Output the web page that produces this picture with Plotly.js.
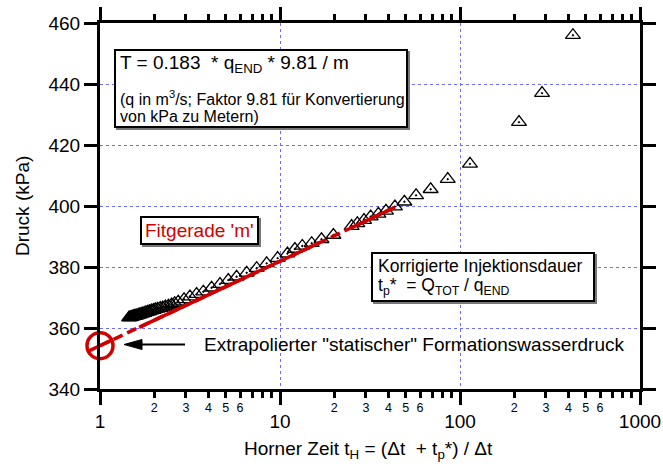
<!DOCTYPE html>
<html>
<head>
<meta charset="utf-8">
<script src="https://cdn.plot.ly/plotly-3.0.1.min.js"></script>
<style>html,body{margin:0;padding:0;background:#fff;}#chart{width:663px;height:468px;}</style>
</head>
<body>
<div id="chart"></div>
<script>
// ---- data ----
const hornerTime = [1.45,1.47,1.49,1.51,1.53,1.55,1.57,1.60,1.63,1.66,1.69,1.72,1.76,1.80,1.84,1.88,1.93,1.98,2.03,2.09,2.16,2.23,2.31,2.40,2.50,2.60,
  2.72,2.93,3.16,3.44,3.75,4.17,4.64,5.16,5.74,6.53,7.42,8.43,9.7,11.0,12.1,13.3,15.0,17.0,19.8,25.0,26.9,29.3,31.9,35.2,38.8,43.5,49.1,57.0,68.7,85.5,113.6,212.7,285.6,424];
const pressure = [363.4,363.5,363.6,363.7,363.8,363.9,364.0,364.1,364.3,364.4,364.6,364.7,364.9,365.1,365.3,365.5,365.7,365.9,366.1,366.3,366.5,366.7,367.0,367.3,367.7,368.1,
  368.6,369.4,370.3,371.1,371.9,373.2,374.4,375.7,376.8,378.1,379.6,381.2,382.9,384.4,385.9,386.9,387.8,389.1,390.5,393.4,394.3,395.4,396.5,397.4,398.4,399.8,401.4,403.5,405.5,408.8,413.8,427.5,437.0,456.0];

// Fit line p = intercept + slope * log10(tH)
const fitIntercept = 354.2;
const fitSlope = 27.7;
const fitRange = [1, 43.5];
const fitSolidRanges = [[1.65, 16.7], [24.5, 43.5]];

const majorTicks = [1, 10, 100, 1000];
const majorLabels = ['1', '10', '100', '1000'];
const minorTicks = [2,3,4,5,6,7,8,9,20,30,40,50,60,70,80,90,200,300,400,500,600,700,800,900];
const minorLabels = ['2','3','4','5','6','','','','2','3','4','5','6','','','','2','3','4','5','6','','',''];
const yTicks = [340, 360, 380, 400, 420, 440, 460];

// ---- drawing ----
const FONT = 'Liberation Sans, Arial, sans-serif';
const RED = '#d10000';
const fitY = x => fitIntercept + fitSlope * Math.log10(x);

const traces = [];
traces.push({
  x: hornerTime, y: pressure, type: 'scatter', mode: 'markers',
  marker: {symbol: 'triangle-up-open-dot', size: 13, color: '#000', line: {width: 1.3, color: '#000'}},
  hoverinfo: 'skip'
});
traces.push({
  x: fitRange, y: fitRange.map(fitY), type: 'scatter', mode: 'lines', xaxis: 'x2',
  line: {color: RED, width: 3.5, dash: '10px,5px'}, hoverinfo: 'skip'
});
fitSolidRanges.forEach(r => traces.push({
  x: r, y: r.map(fitY), type: 'scatter', mode: 'lines', xaxis: 'x2',
  line: {color: RED, width: 3.5}, hoverinfo: 'skip'
}));
traces.push({
  x: [fitRange[0]], y: [fitY(fitRange[0])], type: 'scatter', mode: 'markers', xaxis: 'x2', cliponaxis: false,
  marker: {symbol: 'circle-open', size: 26, color: RED, line: {width: 3.5, color: RED}}, hoverinfo: 'skip'
});
traces.push({
  x: [fitRange[0]], y: [fitY(fitRange[0])], type: 'scatter', mode: 'markers', xaxis: 'x2', cliponaxis: false,
  marker: {symbol: 'line-ne-open', size: 19, angle: 20, color: RED, line: {width: 3.5, color: RED}}, hoverinfo: 'skip'
});

// paper helpers (plot area 100..640 x, 23..389 y)
const L = 100, R = 640, T = 23, B = 389;
const px = v => (v - L) / (R - L);
const py = v => (B - v) / (B - T);

const shapes = [];
function box(x0, y0, x1, y1) {
  shapes.push({type: 'rect', xref: 'paper', yref: 'paper', layer: 'above',
    x0: px(x0 + 2), x1: px(x1 + 2), y0: py(y1 + 2), y1: py(y0 + 2),
    line: {color: '#777', width: 2}, fillcolor: '#777'});
  shapes.push({type: 'rect', xref: 'paper', yref: 'paper', layer: 'above',
    x0: px(x0), x1: px(x1), y0: py(y1), y1: py(y0),
    line: {color: '#000', width: 2}, fillcolor: '#fff'});
}
box(115, 50, 407, 127);
box(141, 217, 258, 244);
box(372, 253, 594, 301);
// arrow
shapes.push({type: 'line', xref: 'paper', yref: 'paper', layer: 'above',
  x0: px(138), x1: px(185), y0: py(344.5), y1: py(344.5), line: {color: '#000', width: 2}});
shapes.push({type: 'path', xref: 'paper', yref: 'paper', layer: 'above',
  path: `M ${px(124)} ${py(344.5)} L ${px(142)} ${py(339.5)} L ${px(142)} ${py(349.5)} Z`,
  fillcolor: '#000', line: {color: '#000', width: 1}});

function txt(text, x, y, size, opts) {
  return Object.assign({text: text, xref: 'paper', yref: 'paper', x: px(x), y: py(y),
    xanchor: 'left', yanchor: 'middle', showarrow: false,
    font: {family: FONT, size: size, color: '#000'}}, opts || {});
}
const annotations = [
  txt('T = 0.183&nbsp; * q<sub>END</sub> * 9.81 / m', 118, 64, 19),
  txt('(q in m<sup>3</sup>/s; Faktor 9.81 für Konvertierung', 118, 98.5, 16),
  txt('von kPa zu Metern)', 118, 116.5, 16),
  txt('Fitgerade \'m\'', 199.5, 230.5, 19, {xanchor: 'center', font: {family: FONT, size: 19, color: RED}}),
  txt('Korrigierte Injektionsdauer', 376, 265.5, 17.5),
  txt('t<sub>p</sub>*&nbsp; = Q<sub>TOT</sub> / q<sub>END</sub>', 376, 286.5, 17.5),
  txt('Extrapolierter "statischer" Formationswasserdruck', 202, 344, 19),
  txt('Horner Zeit t<sub>H</sub> = (Δt&nbsp; + t<sub>p</sub>*) / Δt', 368, 450, 19, {xanchor: 'center'}),
  txt('Druck (kPa)', 22, 206, 19, {xanchor: 'center', textangle: -90})
];

const gridStyle = {showgrid: true, gridcolor: '#6b6bff', gridwidth: 1, griddash: 'dot'};
const layout = {
  width: 663, height: 468,
  margin: {l: L, r: 663 - R, t: T, b: 468 - B},
  paper_bgcolor: '#fff', plot_bgcolor: '#fff',
  showlegend: false,
  font: {family: FONT, color: '#000'},
  xaxis: Object.assign({
    type: 'log', range: [0, 3], tickmode: 'array', tickvals: majorTicks, ticktext: majorLabels,
    ticks: 'outside', ticklen: 13, tickwidth: 3, tickcolor: '#000',
    showline: true, linewidth: 3, linecolor: '#000', mirror: 'allticks', zeroline: false,
    tickfont: {family: FONT, size: 19, color: '#000'}, ticklabelstandoff: 0
  }, gridStyle),
  xaxis2: {
    type: 'log', range: [0, 3], overlaying: 'x', anchor: 'y', side: 'bottom',
    tickmode: 'array', tickvals: minorTicks, ticktext: minorLabels,
    ticks: 'outside', ticklen: 8, tickwidth: 3, tickcolor: '#000',
    showline: false, mirror: 'allticks', showgrid: false, zeroline: false,
    tickfont: {family: FONT, size: 12.5, color: '#000'}, ticklabelstandoff: -1
  },
  yaxis: Object.assign({
    range: [340, 460], tickmode: 'array', tickvals: yTicks,
    ticks: 'outside', ticklen: 13, tickwidth: 3, tickcolor: '#000',
    showline: true, linewidth: 3, linecolor: '#000', mirror: 'allticks', zeroline: false,
    tickfont: {family: FONT, size: 19, color: '#000'}
  }, gridStyle),
  shapes: shapes,
  annotations: annotations
};

Plotly.newPlot('chart', traces, layout, {displayModeBar: false, staticPlot: true});
</script>
</body>
</html>
